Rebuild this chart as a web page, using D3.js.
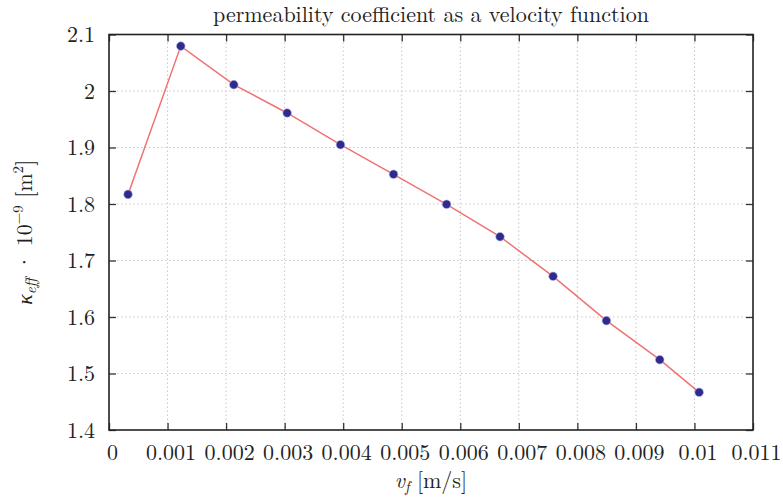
<!DOCTYPE html>
<html><head><meta charset="utf-8">
<script src="https://cdn.jsdelivr.net/npm/d3@7"></script>
<style>body{margin:0;background:#fff}svg{display:block}</style>
</head><body>
<svg id="c" width="783" height="498"></svg>
<script>
const velocity = [0.000325, 0.001226, 0.002132, 0.003043, 0.003954, 0.00486, 0.005766, 0.006679, 0.007585, 0.008496, 0.009407, 0.01008];
const permeability = [1.817, 2.0795, 2.0112, 1.9611, 1.905, 1.8526, 1.7995, 1.7421, 1.672, 1.5935, 1.5244, 1.4667];
const xTicks = [0, 0.001, 0.002, 0.003, 0.004, 0.005, 0.006, 0.007, 0.008, 0.009, 0.01, 0.011];
const yTicks = [1.4, 1.5, 1.6, 1.7, 1.8, 1.9, 2.0, 2.1];
const xTickLabels = ["0","0.001","0.002","0.003","0.004","0.005","0.006","0.007","0.008","0.009","0.01","0.011"];
const yTickLabels = ["1.4","1.5","1.6","1.7","1.8","1.9","2","2.1"];
const title = "permeability coefficient as a velocity function";

const FONT = '"Latin Modern Roman","Liberation Serif",serif';
const svg = d3.select("#c");
const L = 109, R = 753, T = 34.5, B = 430;
const x = d3.scaleLinear().domain([0, 0.011]).range([L, R]);
const y = d3.scaleLinear().domain([1.4, 2.1]).range([B, T]);
const fs = 22;

// grid
const g = svg.append("g");
g.selectAll(".gx").data(xTicks.slice(1, -1)).enter().append("line")
  .attr("x1", d => x(d)).attr("x2", d => x(d)).attr("y1", T).attr("y2", B)
  .attr("stroke", "#c8c8c8").attr("stroke-width", 1).attr("stroke-dasharray", "1.5,2.5");
g.selectAll(".gy").data(yTicks.slice(1, -1)).enter().append("line")
  .attr("y1", d => y(d)).attr("y2", d => y(d)).attr("x1", L).attr("x2", R)
  .attr("stroke", "#c8c8c8").attr("stroke-width", 1).attr("stroke-dasharray", "1.5,2.5");

// axes with inward ticks
const tl = 7;
const ax = svg.append("g");
const fmtX = (d, i) => xTickLabels[i];
const fmtY = (d, i) => yTickLabels[i];
const xb = ax.append("g").attr("transform", `translate(0,${B})`)
  .call(d3.axisBottom(x).tickValues(xTicks).tickSizeInner(-tl).tickSizeOuter(0).tickPadding(14).tickFormat(fmtX));
xb.selectAll(".tick text").attr("dx", 3);
ax.append("g").attr("transform", `translate(0,${T})`)
  .call(d3.axisTop(x).tickValues(xTicks).tickSizeInner(-tl).tickSizeOuter(0).tickFormat(""));
ax.append("g").attr("transform", `translate(${L},0)`)
  .call(d3.axisLeft(y).tickValues(yTicks).tickSizeInner(-tl).tickSizeOuter(0).tickPadding(14).tickFormat(fmtY));
ax.append("g").attr("transform", `translate(${R},0)`)
  .call(d3.axisRight(y).tickValues(yTicks).tickSizeInner(-tl).tickSizeOuter(0).tickFormat(""));
ax.selectAll(".domain").remove();
ax.selectAll(".tick line").attr("stroke", "#333").attr("stroke-width", 1.3);
ax.selectAll(".tick text").style("font-size", fs + "px").style("font-family", FONT).attr("fill", "#222");
svg.append("rect").attr("x", L).attr("y", T).attr("width", R - L).attr("height", B - T)
  .attr("fill", "none").attr("stroke", "#222").attr("stroke-width", 1.6);

// line + points
const pts = velocity.map((v, i) => [v, permeability[i]]);
svg.append("path").datum(pts)
  .attr("d", d3.line().x(d => x(d[0])).y(d => y(d[1])))
  .attr("fill", "none").attr("stroke", "#f07272").attr("stroke-width", 1.5);
svg.selectAll(".pt").data(pts).enter().append("circle")
  .attr("cx", d => x(d[0])).attr("cy", d => y(d[1])).attr("r", 4.3)
  .attr("fill", "#2e2a8e").attr("stroke", "#b8b4e0").attr("stroke-width", 0.6);

// title
svg.append("text").attr("x", (L + R) / 2).attr("y", 22).attr("text-anchor", "middle")
  .style("font-size", fs + "px").style("font-family", FONT).attr("fill", "#222").text(title);

// x label
const xl = svg.append("text").attr("x", (L + R) / 2).attr("y", 488).attr("text-anchor", "middle")
  .style("font-size", fs + "px").style("font-family", FONT).attr("fill", "#222");
xl.append("tspan").attr("font-style", "italic").text("v");
xl.append("tspan").attr("font-style", "italic").style("font-size", "15px").attr("dy", 4).text("f");
xl.append("tspan").attr("dy", -4).text(" [m/s]");

// y label
const yl = svg.append("text").attr("transform", `translate(32,${(T + B) / 2}) rotate(-90)`)
  .attr("text-anchor", "middle").style("font-size", fs + "px").style("font-family", FONT).attr("fill", "#222");
yl.append("tspan").attr("font-style", "italic").text("κ");
yl.append("tspan").attr("font-style", "italic").style("font-size", "15px").attr("dy", 4).text("eff");
yl.append("tspan").attr("dy", -4).text(" · 10");
yl.append("tspan").style("font-size", "15px").attr("dy", -9).text("−9");
yl.append("tspan").attr("dy", 9).text(" [m");
yl.append("tspan").style("font-size", "15px").attr("dy", -9).text("2");
yl.append("tspan").attr("dy", 9).text("]");
</script>
</body></html>
